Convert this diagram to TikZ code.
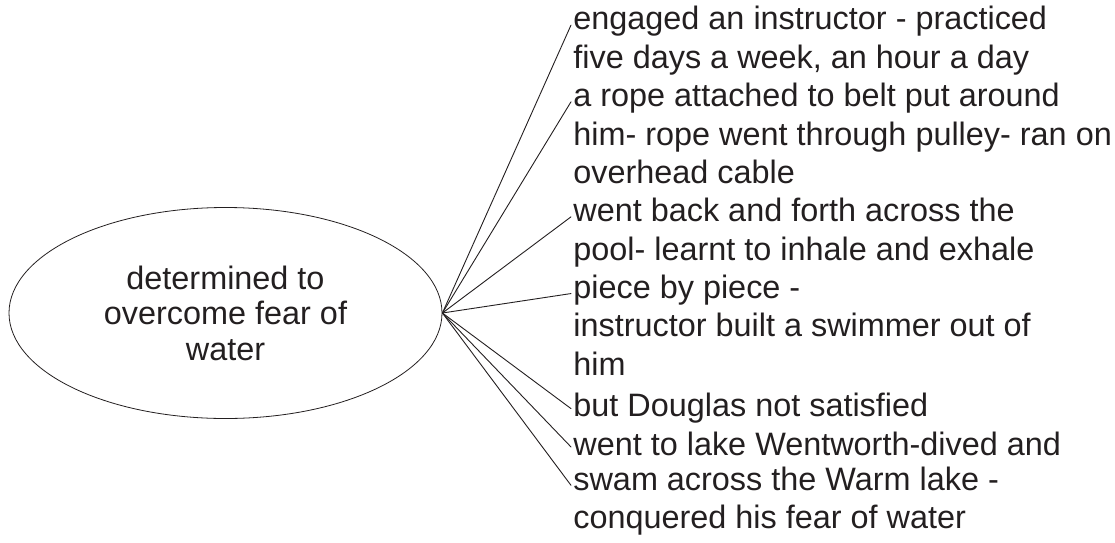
\documentclass[tikz,border=0pt]{standalone}
\usepackage{fontspec}
\setmainfont{Liberation Sans}
\usetikzlibrary{shapes.geometric, positioning}

\definecolor{ink}{HTML}{231F20}

\tikzset{
  topic/.style={draw=ink, ellipse, inner sep=0pt, minimum width=216.5pt, minimum height=105.5pt,
    align=center, text=ink, font=\fontsize{16.2}{17.75}\selectfont},
  item/.style={anchor=north west, inner sep=0pt, align=left, text=ink,
    font=\fontsize{16.2}{19.2}\selectfont, execute at begin node=\strut},
  link/.style={draw=ink, line width=0.45pt}
}

\begin{document}
\begin{tikzpicture}[x=0.5pt, y=-0.5pt, line cap=round, line join=round]
\useasboundingbox (0,0) rectangle (1115,542);

% central idea
\node[topic] (fear) at (225.5,313) {determined to\\overcome fear of\\water};

% branches, top of each first row (one row = 38.35)
\node[item] (lesson)  at (573,6.1)    {engaged an instructor - practiced\\five days a week, an hour a day};
\node[item] (rope)    at (573,82.8)   {a rope attached to belt put around\\him- rope went through pulley- ran on\\overhead cable};
\node[item] (pool)    at (573,197.85) {went back and forth across the\\pool- learnt to inhale and exhale};
\node[item] (piece)   at (573,274.55) {piece by piece -\\instructor built a swimmer out of\\him};
\node[item] (douglas) at (573,389.6)  {but Douglas not satisfied};
\node[item] (lake)    at (573,427.95) {went to lake Wentworth-dived and};
\node[item] (swam)    at (573,466.3)  {swam across the Warm lake -\\conquered his fear of water};

\foreach \n in {lesson,rope,pool,piece,douglas,lake,swam}
  \draw[link] (fear.east) -- ([shift={(-2,19)}]\n.north west);

\end{tikzpicture}
\end{document}
